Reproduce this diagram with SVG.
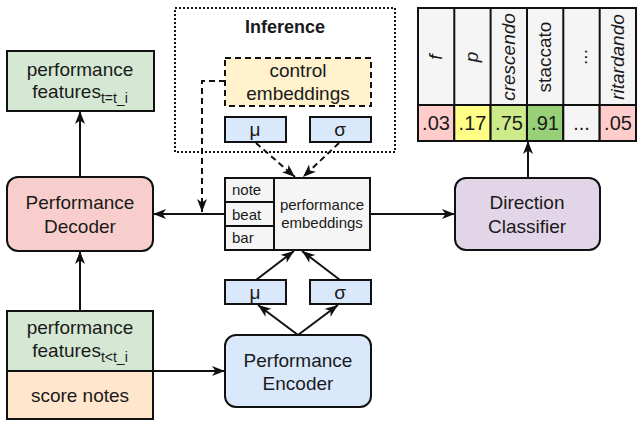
<svg xmlns="http://www.w3.org/2000/svg" width="637" height="421" viewBox="0 0 637 421">
<style>
text{font-family:"Liberation Sans",Arial,sans-serif;font-size:19px;fill:#1a1a1a;text-anchor:middle}
.box{stroke:#111;stroke-width:2}
.sm{font-size:15px}
.st{font-size:14px}
.it{font-style:italic}
.val{font-size:20px}
.ln{fill:none;stroke:#111;stroke-width:2}
.dash{stroke-dasharray:6 4}
.dot{fill:none;stroke:#111;stroke-width:2;stroke-dasharray:2 2}
</style>
<defs>
<marker id="arr" markerUnits="userSpaceOnUse" markerWidth="14" markerHeight="11" refX="13" refY="5" orient="auto">
<path d="M0,0 L13,5 L0,10 L3.5,5 Z" fill="#111"/>
</marker>
</defs>
<rect width="637" height="421" fill="#fff"/>

<g id="inference">
<rect x="175" y="8" width="220" height="144" class="dot"/>
<text x="285" y="33" style="font-weight:bold;font-size:18px">Inference</text>
</g>

<g id="control-embeddings">
<rect x="225" y="58" width="146" height="48" fill="#fff2cc" class="box dash"/>
<text x="298" y="77">control</text>
<text x="298" y="100">embeddings</text>
</g>

<g id="mu-inf">
<rect x="225" y="117" width="61" height="25" fill="#dae8fc" class="box"/>
<text x="255" y="136">μ</text>
</g>
<g id="sigma-inf">
<rect x="310" y="117" width="61" height="25" fill="#dae8fc" class="box"/>
<text x="340" y="136">σ</text>
</g>

<g id="perf-embeddings">
<rect x="225" y="178" width="145" height="72" fill="#f5f5f5" class="box"/>
<line x1="274" y1="178" x2="274" y2="250" class="ln"/>
<line x1="225" y1="202" x2="274" y2="202" class="ln"/>
<line x1="225" y1="226" x2="274" y2="226" class="ln"/>
<text x="232" y="195" class="sm" style="text-anchor:start">note</text>
<text x="232" y="220" class="sm" style="text-anchor:start">beat</text>
<text x="232" y="243" class="sm" style="text-anchor:start">bar</text>
<text x="322" y="210" class="sm">performance</text>
<text x="322" y="228" class="sm">embeddings</text>
</g>

<g id="features-out">
<rect x="7" y="51" width="147" height="60" fill="#d5e8d4" class="box"/>
<text x="80" y="76">performance</text>
<text x="80" y="98">features<tspan class="st" dy="5">t=t_i</tspan></text>
</g>

<g id="decoder">
<rect x="7" y="177" width="146" height="74" rx="11" fill="#f8cecc" class="box"/>
<text x="80" y="209">Performance</text>
<text x="80" y="233">Decoder</text>
</g>

<g id="features-in">
<rect x="7" y="311" width="146" height="60" fill="#d5e8d4" class="box"/>
<text x="80" y="334">performance</text>
<text x="80" y="357">features<tspan class="st" dy="5">t&lt;t_i</tspan></text>
</g>

<g id="score-notes">
<rect x="7" y="371" width="146" height="48" fill="#ffe6cc" class="box"/>
<text x="80" y="402">score notes</text>
</g>

<g id="encoder">
<rect x="225" y="335" width="146" height="72" rx="11" fill="#dae8fc" class="box"/>
<text x="298" y="367">Performance</text>
<text x="298" y="390">Encoder</text>
</g>

<g id="mu-enc">
<rect x="225" y="280" width="61" height="24" fill="#dae8fc" class="box"/>
<text x="255" y="299">μ</text>
</g>
<g id="sigma-enc">
<rect x="310" y="280" width="61" height="24" fill="#dae8fc" class="box"/>
<text x="340" y="299">σ</text>
</g>

<g id="classifier">
<rect x="455" y="178" width="145" height="72" rx="11" fill="#e1d5e7" class="box"/>
<text x="527" y="209">Direction</text>
<text x="527" y="233">Classifier</text>
</g>

<g id="table">
<rect x="418" y="8" width="218" height="97" fill="#f5f5f5" class="box"/>
<rect x="418" y="105" width="36.3" height="36" fill="#ffcccc" class="box"/>
<rect x="454.3" y="105" width="36.3" height="36" fill="#ffff88" class="box"/>
<rect x="490.6" y="105" width="36.3" height="36" fill="#cdeb8b" class="box"/>
<rect x="527" y="105" width="36.3" height="36" fill="#97d077" class="box"/>
<rect x="563.3" y="105" width="36.3" height="36" fill="#f5f5f5" class="box"/>
<rect x="599.7" y="105" width="36.3" height="36" fill="#ffcccc" class="box"/>
<line x1="454.3" y1="8" x2="454.3" y2="105" class="ln"/>
<line x1="490.6" y1="8" x2="490.6" y2="105" class="ln"/>
<line x1="527" y1="8" x2="527" y2="105" class="ln"/>
<line x1="563.3" y1="8" x2="563.3" y2="105" class="ln"/>
<line x1="599.7" y1="8" x2="599.7" y2="105" class="ln"/>
<text class="it" transform="translate(436,57) rotate(-90)" dy="0.3em">f</text>
<text class="it" transform="translate(472.5,57) rotate(-90)" dy="0.3em">p</text>
<text class="it" transform="translate(509,57) rotate(-90)" dy="0.3em">crescendo</text>
<text transform="translate(545,57) rotate(-90)" dy="0.3em">staccato</text>
<text transform="translate(581.5,57) rotate(-90)" dy="0.3em">...</text>
<text class="it" transform="translate(618,57) rotate(-90)" dy="0.3em">ritardando</text>
<text class="val" x="436" y="130">.03</text>
<text class="val" x="472.5" y="130">.17</text>
<text class="val" x="509" y="130">.75</text>
<text class="val" x="545" y="130">.91</text>
<text class="val" x="581.5" y="130">...</text>
<text class="val" x="618" y="130">.05</text>
</g>

<g id="connectors">
<line x1="80" y1="177" x2="80" y2="111" class="ln" marker-end="url(#arr)"/>
<line x1="80" y1="311" x2="80" y2="251" class="ln" marker-end="url(#arr)"/>
<line x1="153" y1="371" x2="225" y2="371" class="ln" marker-end="url(#arr)"/>
<line x1="225" y1="214" x2="153" y2="214" class="ln" marker-end="url(#arr)"/>
<line x1="370" y1="214" x2="455" y2="214" class="ln" marker-end="url(#arr)"/>
<line x1="528" y1="178" x2="528" y2="141" class="ln" marker-end="url(#arr)"/>
<line x1="298" y1="335" x2="258" y2="305" class="ln" marker-end="url(#arr)"/>
<line x1="298" y1="335" x2="338" y2="305" class="ln" marker-end="url(#arr)"/>
<line x1="256" y1="280" x2="294" y2="251" class="ln" marker-end="url(#arr)"/>
<line x1="340" y1="280" x2="302" y2="251" class="ln" marker-end="url(#arr)"/>
<line x1="256" y1="143" x2="295" y2="177" class="ln dash" marker-end="url(#arr)"/>
<line x1="339" y1="143" x2="303" y2="177" class="ln dash" marker-end="url(#arr)"/>
<polyline points="225,81 202,81 202,212" class="ln dash" marker-end="url(#arr)"/>
</g>
</svg>
